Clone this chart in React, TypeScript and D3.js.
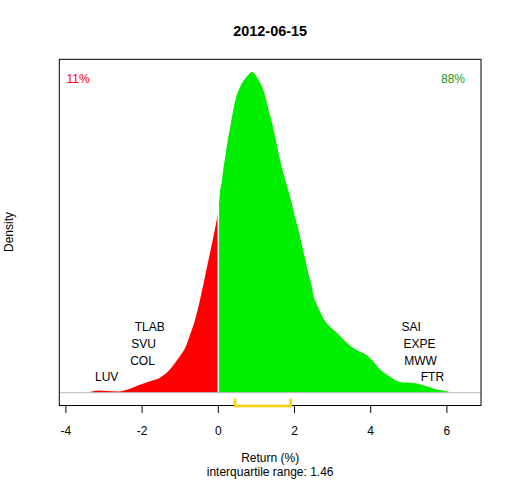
import { useEffect, useRef } from 'react';
import * as d3 from 'd3';

const title = '2012-06-15';

// density of daily returns (%)
const returns = [
    -3.36, -3.16, -2.63, -2.32, -2.06, -1.79, -1.53, -1.27, -1.01, -0.87, -0.74, -0.61, -0.48, -0.35, -0.22, -0.13,
    -0.06, -0.02, 0, 0.02, 0.04, 0.09, 0.13, 0.18, 0.22, 0.26, 0.31, 0.39, 0.48, 0.57, 0.66, 0.75, 0.83, 0.88, 0.96,
    1.05, 1.14, 1.23, 1.31, 1.4, 1.49, 1.57, 1.66, 1.75, 1.84, 1.93, 2.01, 2.1, 2.19, 2.28, 2.36, 2.45, 2.49, 2.58,
    2.67, 2.75, 2.93, 3.11, 3.28, 3.46, 3.63, 3.9, 4.07, 4.24, 4.42, 4.59, 4.77, 5.12, 5.29, 5.47, 5.64, 5.82, 6.08,
];
const density = [
    0.0007, 0.0021, 0.0012, 0.0037, 0.0074, 0.0108, 0.014, 0.0217, 0.034, 0.0418, 0.0542, 0.0682, 0.0868, 0.1086,
    0.1303, 0.1458, 0.1582, 0.166, 0.171, 0.177, 0.186, 0.197, 0.209, 0.22, 0.23, 0.239, 0.248, 0.264, 0.278, 0.286,
    0.292, 0.296, 0.299, 0.3, 0.298, 0.293, 0.287, 0.278, 0.266, 0.254, 0.24, 0.226, 0.212, 0.2, 0.189, 0.177, 0.165,
    0.153, 0.139, 0.125, 0.112, 0.1, 0.092, 0.083, 0.076, 0.07, 0.062, 0.056, 0.05, 0.044, 0.04, 0.035, 0.029, 0.022,
    0.017, 0.013, 0.01, 0.009, 0.008, 0.006, 0.004, 0.0024, 0.0006,
];

const xTicks = [-4, -2, 0, 2, 4, 6];

const downNames = ['LUV', 'COL', 'SVU', 'TLAB'];
const downReturns = [-2.93, -1.99, -1.96, -1.8];
const upNames = ['FTR', 'MWW', 'EXPE', 'SAI'];
const upReturns = [5.62, 5.31, 5.28, 5.06];

const quartiles = [0.44, 1.9];
const pctDown = '11%';
const pctUp = '88%';

type Pt = { r: number; d: number };

export default function App() {
    const ref = useRef<SVGSVGElement | null>(null);

    useEffect(() => {
        if (!ref.current) return;
        const width = 512;
        const height = 480;
        const box = { left: 59.3, right: 481, top: 59.3, bottom: 405.5 };

        const x = d3.scaleLinear().domain([-4.173, 6.895]).range([box.left, box.right]);
        const ymax = d3.max(density)!;
        const y = d3
            .scaleLinear()
            .domain([-0.04 * ymax, 1.04 * ymax])
            .range([box.bottom, box.top]);

        const svg = d3.select(ref.current);
        svg.selectAll('*').remove();
        svg.attr('viewBox', `0 0 ${width} ${height}`).attr('width', width).attr('height', height);
        svg.append('rect').attr('width', width).attr('height', height).attr('fill', '#fff');

        const pts: Pt[] = returns.map((r, i) => ({ r, d: density[i] }));
        const shape = d3
            .area<Pt>()
            .x(p => x(p.r))
            .y0(y(0))
            .y1(p => y(p.d))
            .curve(d3.curveMonotoneX);

        svg.append('path').datum(pts.filter(p => p.r <= 0)).attr('d', shape).attr('fill', '#ff0000');
        svg.append('path').datum(pts.filter(p => p.r >= 0)).attr('d', shape).attr('fill', '#00ee00');
        // white split at zero
        svg.append('line')
            .attr('x1', x(0)).attr('x2', x(0))
            .attr('y1', y(0)).attr('y2', y(0.175))
            .attr('stroke', '#fff').attr('stroke-width', 1.6);

        // zero baseline
        svg.append('line')
            .attr('x1', box.left).attr('x2', box.right)
            .attr('y1', y(0)).attr('y2', y(0))
            .attr('stroke', '#bebebe').attr('stroke-width', 1);

        // box
        svg.append('rect')
            .attr('x', box.left).attr('y', box.top)
            .attr('width', box.right - box.left).attr('height', box.bottom - box.top)
            .attr('fill', 'none').attr('stroke', '#000').attr('stroke-width', 1);

        // IQR bracket
        svg.append('path')
            .attr('d', `M${x(quartiles[0])},${y(-0.0055)}V${box.bottom + 0.5}H${x(quartiles[1])}V${y(-0.0055)}`)
            .attr('fill', 'none').attr('stroke', '#ffd000').attr('stroke-width', 2.5);

        const font = 'Liberation Sans, Arial, sans-serif';

        // x axis
        const ax = svg.append('g').attr('font-family', font).attr('font-size', 12);
        xTicks.forEach(t => {
            ax.append('line')
                .attr('x1', x(t)).attr('x2', x(t))
                .attr('y1', box.bottom).attr('y2', box.bottom + 7.5)
                .attr('stroke', '#000');
            ax.append('text').attr('x', x(t)).attr('y', 435).attr('text-anchor', 'middle').text(t);
        });

        const txt = svg.append('g').attr('font-family', font).attr('font-size', 12).attr('text-anchor', 'middle');
        const cx = (box.left + box.right) / 2;
        txt.append('text').attr('x', cx).attr('y', 36)
            .attr('font-size', 14.4).attr('font-weight', 'bold').text(title);
        txt.append('text').attr('x', cx).attr('y', 462).text('Return (%)');
        txt.append('text').attr('x', cx).attr('y', 476)
            .text(`interquartile range: ${(quartiles[1] - quartiles[0]).toFixed(2)}`);
        txt.append('text').attr('transform', 'translate(13,232) rotate(-90)').text('Density');

        txt.append('text').attr('x', 78).attr('y', 82.5).attr('fill', '#ff0000').text(pctDown);
        txt.append('text').attr('x', 453).attr('y', 82.5).attr('fill', '#1a9a1a').text(pctUp);

        // extreme movers, stacked up from the baseline
        const rowGap = 16.7;
        const firstRow = y(0) - 11.3;
        downNames.forEach((n, i) => {
            txt.append('text').attr('x', x(downReturns[i])).attr('y', firstRow - i * rowGap).text(n);
        });
        upNames.forEach((n, i) => {
            txt.append('text').attr('x', x(upReturns[i])).attr('y', firstRow - i * rowGap).text(n);
        });
    }, []);

    return <svg ref={ref} style={{ position: 'absolute', left: 0, top: 0, display: 'block' }} />;
}
